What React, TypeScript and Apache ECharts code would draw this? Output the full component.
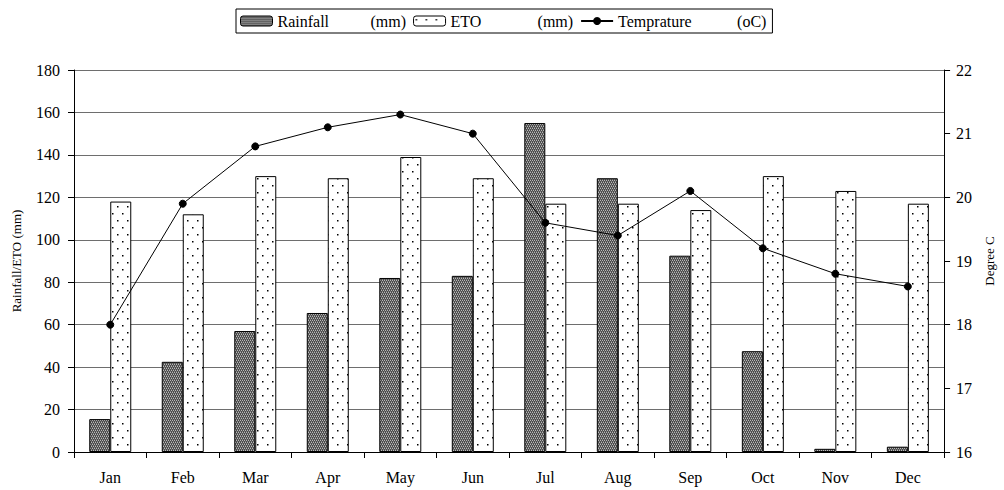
import React, { useEffect, useRef } from "react";
import * as echarts from "echarts";

const months = ["Jan", "Feb", "Mar", "Apr", "May", "Jun", "Jul", "Aug", "Sep", "Oct", "Nov", "Dec"];
const rainfall = [15.5, 42.5, 57, 65.5, 82, 83, 155, 129, 92.5, 47.5, 1.5, 2.5];
const eto = [118, 112, 130, 129, 139, 129, 117, 117, 114, 130, 123, 117];
const temperature = [18.0, 19.9, 20.8, 21.1, 21.3, 21.0, 19.6, 19.4, 20.1, 19.2, 18.8, 18.6];
const leftTicks = { min: 0, max: 180, interval: 20 };
const rightTicks = { min: 16, max: 22, interval: 1 };

const FONT = "Liberation Serif, Times New Roman, serif";

function makeRainPattern(): HTMLCanvasElement {
  const c = document.createElement("canvas");
  c.width = 4;
  c.height = 4;
  const ctx = c.getContext("2d")!;
  ctx.fillStyle = "#4a4a4a";
  ctx.fillRect(0, 0, 4, 4);
  ctx.fillStyle = "#b8b8b8";
  ctx.fillRect(0, 0, 1, 1);
  ctx.fillRect(2, 0, 1, 1);
  ctx.fillRect(1, 2, 1, 1);
  ctx.fillRect(3, 2, 1, 1);
  ctx.fillStyle = "#7a7a7a";
  ctx.fillRect(1, 1, 1, 1);
  ctx.fillRect(3, 1, 1, 1);
  ctx.fillRect(0, 3, 1, 1);
  ctx.fillRect(2, 3, 1, 1);
  return c;
}

function makeEtoPattern(): HTMLCanvasElement {
  const c = document.createElement("canvas");
  c.width = 10;
  c.height = 14;
  const ctx = c.getContext("2d")!;
  ctx.fillStyle = "#ffffff";
  ctx.fillRect(0, 0, 10, 14);
  ctx.fillStyle = "#000000";
  ctx.fillRect(2, 3, 1.5, 1.5);
  ctx.fillRect(7, 10, 1.5, 1.5);
  return c;
}

export default function App() {
  const ref = useRef<HTMLDivElement>(null);
  useEffect(() => {
    document.body.style.margin = "0";
    if (!ref.current) return;
    const chart = echarts.init(ref.current, undefined, { renderer: "svg" });
    const rainPat = { image: makeRainPattern(), repeat: "repeat" };
    const etoPat = { image: makeEtoPattern(), repeat: "repeat" };
    const axisLine = { show: true, lineStyle: { color: "#000", width: 1 } };
    const axisTick = { show: true, length: 6, lineStyle: { color: "#000", width: 1 } };
    chart.setOption({
      animation: false,
      backgroundColor: "#ffffff",
      textStyle: { fontFamily: FONT, color: "#000" },
      legend: {
        left: 236,
        top: 9,
        padding: [4, 6, 4, 4],
        itemGap: 7,
        itemWidth: 32,
        itemHeight: 10,
        borderColor: "#000",
        borderWidth: 1,
        borderRadius: 0,
        selectedMode: false,
        textStyle: {
          fontFamily: FONT,
          fontSize: 16,
          color: "#000",
          rich: {
            a: { fontFamily: FONT, fontSize: 16, color: "#000", width: 93 },
            b: { fontFamily: FONT, fontSize: 16, color: "#000", width: 87 },
            c: { fontFamily: FONT, fontSize: 16, color: "#000", width: 119 },
            u: { fontFamily: FONT, fontSize: 16, color: "#000" },
          },
        },
        data: [
          { name: "Rainfall", itemStyle: { color: rainPat, borderColor: "#000", borderWidth: 1 } },
          { name: "ETO", itemStyle: { color: etoPat, borderColor: "#000", borderWidth: 1 } },
          { name: "Temprature" },
        ],
        formatter: (name: string) => {
          if (name === "Rainfall") return "{a|Rainfall}{u|(mm)}";
          if (name === "ETO") return "{b|ETO}{u|(mm)}";
          return "{c|Temprature}{u|(oC)}";
        },
      },
      grid: { left: 74, right: 59, top: 70, bottom: 38 },
      xAxis: {
        type: "category",
        data: months,
        boundaryGap: true,
        axisLine,
        axisTick: { ...axisTick, alignWithLabel: false },
        axisLabel: { fontFamily: FONT, fontSize: 16, color: "#000", margin: 17 },
        splitLine: { show: false },
      },
      yAxis: [
        {
          type: "value",
          ...leftTicks,
          name: "Rainfall/ETO (mm)",
          nameLocation: "middle",
          nameGap: 51,
          nameRotate: 90,
          nameTextStyle: { fontFamily: FONT, fontSize: 13, color: "#000" },
          axisLine,
          axisTick,
          axisLabel: { fontFamily: FONT, fontSize: 16, color: "#000", margin: 14 },
          splitLine: { show: true, lineStyle: { color: "#6e6e6e", width: 1 } },
        },
        {
          type: "value",
          ...rightTicks,
          name: "Degree C",
          nameLocation: "middle",
          nameGap: 35,
          nameRotate: 90,
          nameTextStyle: { fontFamily: FONT, fontSize: 13, color: "#000" },
          axisLine,
          axisTick,
          axisLabel: { fontFamily: FONT, fontSize: 16, color: "#000", margin: 12 },
          splitLine: { show: false },
        },
      ],
      series: [
        {
          name: "Rainfall",
          type: "bar",
          data: rainfall,
          barWidth: 21,
          barGap: "0%",
          itemStyle: { color: rainPat, borderColor: "#000", borderWidth: 1 },
        },
        {
          name: "ETO",
          type: "bar",
          data: eto,
          barWidth: 21,
          barGap: "0%",
          itemStyle: { color: etoPat, borderColor: "#000", borderWidth: 1 },
        },
        {
          name: "Temprature",
          type: "line",
          yAxisIndex: 1,
          data: temperature,
          symbol: "circle",
          symbolSize: 7,
          lineStyle: { color: "#000", width: 1 },
          itemStyle: { color: "#000", borderColor: "#000" },
          z: 5,
        },
      ],
    });
    return () => chart.dispose();
  }, []);
  return <div ref={ref} style={{ width: 1004, height: 490 }} />;
}
